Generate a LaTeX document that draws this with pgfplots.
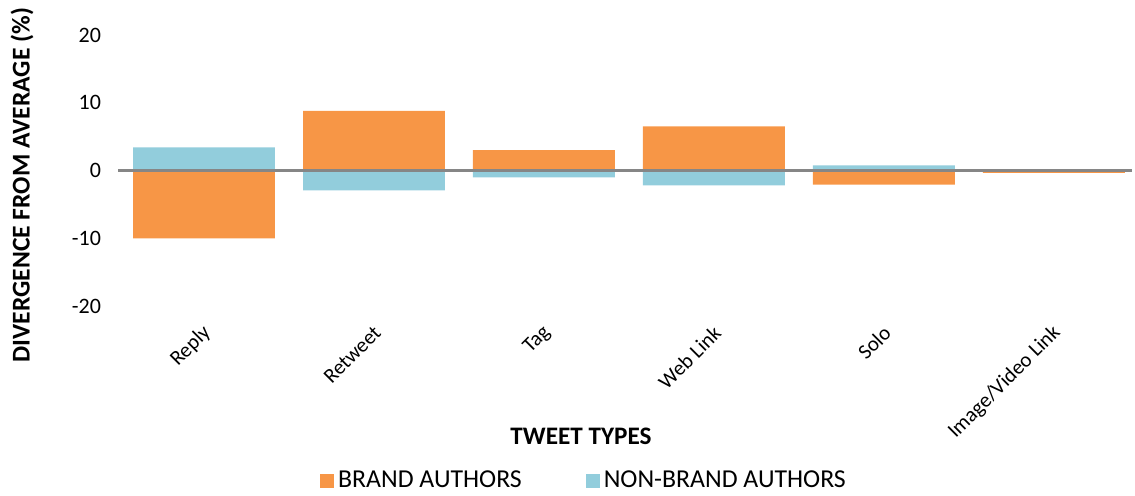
\documentclass[border=0pt]{standalone}
\usepackage{pgfplots}
\pgfplotsset{compat=1.18}
\usepackage{fontspec}
\setmainfont{Carlito}
\definecolor{brand}{HTML}{F79646}
\definecolor{nonbrand}{HTML}{92CDDC}
\definecolor{zeroline}{HTML}{868686}
\begin{document}
\begin{tikzpicture}
\path[use as bounding box] (0,0) rectangle (567.5pt,247.5pt);
\begin{axis}[
  at={(59pt,94.5pt)}, anchor=south west,
  scale only axis, width=507pt, height=135.5pt,
  xmin=-0.506, xmax=5.46, ymin=-20, ymax=20,
  axis line style={draw=none},
  major tick length=0pt,
  xtick={0,1,2,3,4,5},
  xticklabels={Reply,Retweet,Tag,Web Link,Solo,Image/Video Link},
  ytick={-20,-10,0,10,20},
  /pgf/number format/assume math mode=true,
  yticklabel style={font=\fontsize{11}{13}\selectfont, xshift=-5pt},
  xticklabel style={font=\fontsize{10.5}{12}\selectfont, rotate=45, anchor=east, yshift=-9.6pt, xshift=-3.7pt},
  xlabel={\textbf{TWEET TYPES}},
  xlabel style={at={(axis description cs:0.4566,-0.48)}, anchor=center, font=\fontsize{12.6}{14}\selectfont},
  ylabel={\textbf{DIVERGENCE FROM AVERAGE (\%)}},
  ylabel style={at={(axis description cs:-0.0947,0.446)}, anchor=center, font=\fontsize{12.8}{14}\selectfont},
  legend style={at={(axis description cs:0.4605,-0.646)}, anchor=center, draw=none, legend columns=2,
    font=\fontsize{12.9}{14}\selectfont, /tikz/every even column/.append style={column sep=30pt}},
  ybar, bar width=0.835, bar shift=0pt,
]
\addplot[fill=brand, draw=none, legend image code/.code={\fill[brand] (0pt,-3.5pt) rectangle (7pt,3.5pt);}] coordinates {(0,-10.0) (1,8.8) (2,3.0) (3,6.5) (4,-2.1) (5,-0.35)};
\addlegendentry{BRAND AUTHORS}
\addplot[fill=nonbrand, draw=none, legend image code/.code={\fill[nonbrand] (0pt,-3.5pt) rectangle (7pt,3.5pt);}] coordinates {(0,3.4) (1,-2.95) (2,-1.0) (3,-2.2) (4,0.75) (5,0)};
\addlegendentry{NON-BRAND AUTHORS}
\addplot[sharp plot, zeroline, line width=1.2pt, forget plot] coordinates {(-0.506,0) (5.46,0)};
\end{axis}
\end{tikzpicture}
\end{document}
